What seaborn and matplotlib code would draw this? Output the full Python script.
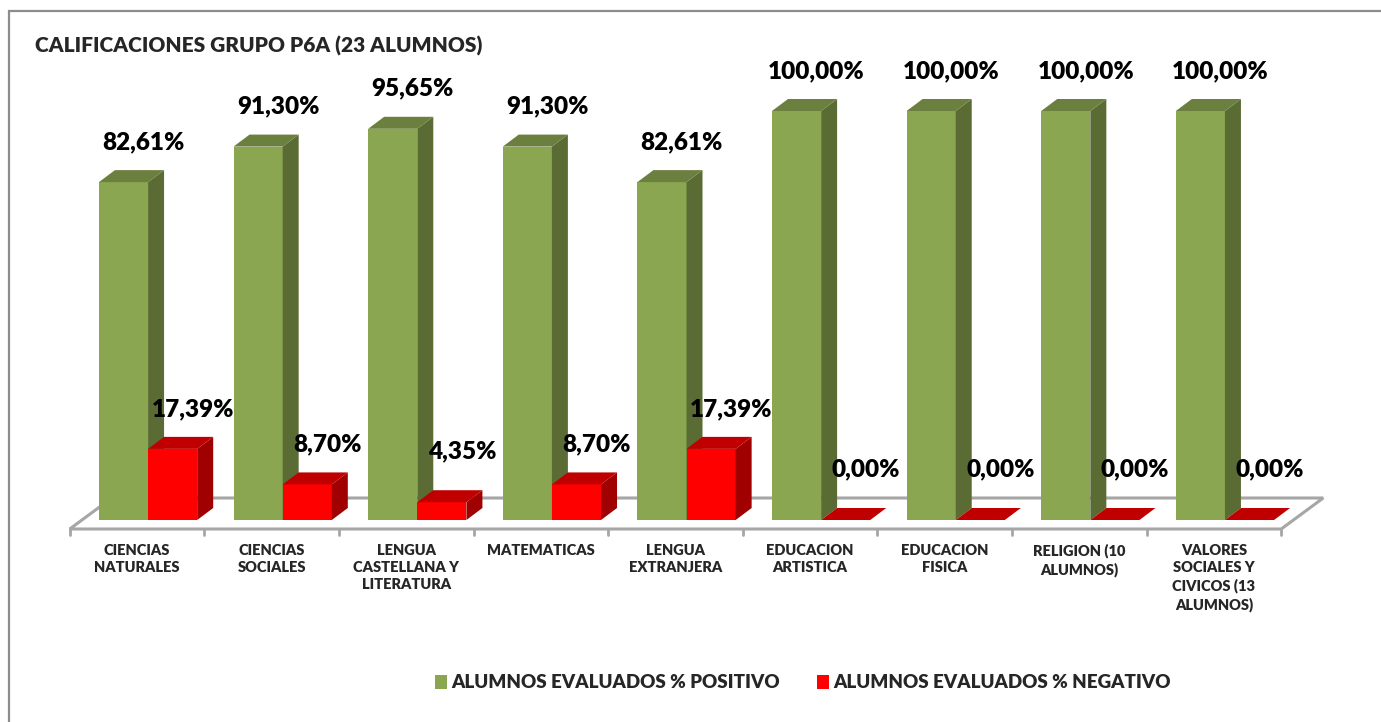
import numpy as np
import pandas as pd
import matplotlib
matplotlib.use("Agg")
import matplotlib.pyplot as plt
import matplotlib.transforms as mtransforms
from matplotlib.patches import Polygon, Rectangle, Patch
import seaborn as sns

# ====== DATA ======
CATEGORIES = [
    "CIENCIAS\nNATURALES",
    "CIENCIAS\nSOCIALES",
    "LENGUA\nCASTELLANA Y\nLITERATURA",
    "MATEMATICAS",
    "LENGUA\nEXTRANJERA",
    "EDUCACION\nARTISTICA",
    "EDUCACION\nFISICA",
    "RELIGION (10\nALUMNOS)",
    "VALORES\nSOCIALES Y\nCIVICOS (13\nALUMNOS)",
]
POSITIVO = [82.61, 91.30, 95.65, 91.30, 82.61, 100.00, 100.00, 100.00, 100.00]
NEGATIVO = [17.39, 8.70, 4.35, 8.70, 17.39, 0.00, 0.00, 0.00, 0.00]
SERIES = ["ALUMNOS EVALUADOS % POSITIVO", "ALUMNOS EVALUADOS % NEGATIVO"]
TITLE = "CALIFICACIONES GRUPO P6A (23 ALUMNOS)"
# ==================

# front / side / top colours for each series
FACES = {
    SERIES[0]: ("#8AA650", "#5A6B33", "#6B803F"),
    SERIES[1]: ("#FF0000", "#A00000", "#C00000"),
}
DEPTH = (16, 12)          # bar depth in pixels (right, up)
FLOOR_FRONT = (-11, -9)   # floor front edge relative to bar plane
FLOOR_BACK = (31, 22)     # floor back edge relative to bar plane
WEIGHT = "heavy"

W, H, DPI = 1381, 722, 100

df = pd.DataFrame({
    "Materia": CATEGORIES * 2,
    "Serie": [SERIES[0]] * len(CATEGORIES) + [SERIES[1]] * len(CATEGORIES),
    "Valor": POSITIVO + NEGATIVO,
})

sns.set_style("white")
plt.rcParams["font.family"] = ["Lato", "DejaVu Sans"]
plt.rcParams["font.weight"] = WEIGHT

fig = plt.figure(figsize=(W / DPI, H / DPI), dpi=DPI)
# axes placed so that 0% sits on the bar plane and 100% at the tallest top
left_px, right_px = 80.75, 1292.25
bottom_px, top_px = 520, 111
ax = fig.add_axes([left_px / W, 1 - bottom_px / H,
                   (right_px - left_px) / W, (bottom_px - top_px) / H])

sns.barplot(data=df, x="Materia", y="Valor", hue="Serie",
            palette=[FACES[s][0] for s in SERIES], saturation=1,
            width=0.73, legend=False, ax=ax, zorder=2)
ax.set_xlim(-0.5, len(CATEGORIES) - 0.5)
ax.set_ylim(0, 100)
for sp in ax.spines.values():
    sp.set_visible(False)
ax.set_yticks([])
ax.set_xlabel("")
ax.set_ylabel("")


def shifted(x, y, dx, dy):
    """data point moved by a pixel offset, returned in data units"""
    px = ax.transData.transform((x, y)) + np.array([dx, dy])
    return ax.transData.inverted().transform(px)


# ---- floor ----
x0, x1 = -0.5, len(CATEGORIES) - 0.5
floor = [shifted(x0, 0, *FLOOR_FRONT), shifted(x1, 0, *FLOOR_FRONT),
         shifted(x1, 0, *FLOOR_BACK), shifted(x0, 0, *FLOOR_BACK)]
ax.add_patch(Polygon(floor, closed=True, facecolor="white",
                     edgecolor="#A6A6A6", lw=2.2, zorder=1, clip_on=False))
for k in range(len(CATEGORIES) + 1):
    a = shifted(x0 + k, 0, *FLOOR_FRONT)
    b = shifted(x0 + k, 0, FLOOR_FRONT[0], FLOOR_FRONT[1] - 6)
    ax.plot([a[0], b[0]], [a[1], b[1]], color="#A6A6A6", lw=2,
            zorder=1, clip_on=False)

# ---- 3D faces + value labels ----
for j, (serie, cont) in enumerate(zip(SERIES, ax.containers)):
    front, side, top = FACES[serie]
    for bar in cont:
        bx, bw, bh = bar.get_x(), bar.get_width(), bar.get_height()
        bar.set_zorder(2 + j)
        bar.set_edgecolor("none")
        top_face = [(bx, bh), (bx + bw, bh),
                    shifted(bx + bw, bh, *DEPTH), shifted(bx, bh, *DEPTH)]
        side_face = [(bx + bw, 0), (bx + bw, bh),
                     shifted(bx + bw, bh, *DEPTH), shifted(bx + bw, 0, *DEPTH)]
        ax.add_patch(Polygon(side_face, closed=True, facecolor=side,
                             edgecolor="none", zorder=2 + j, clip_on=False))
        ax.add_patch(Polygon(top_face, closed=True, facecolor=top,
                             edgecolor="none", zorder=2 + j, clip_on=False))
        # short bars get their label lifted a bit more (as Excel does)
        lift = 40 if bh >= 5 else 51
        tr = mtransforms.offset_copy(ax.transData, fig=fig, x=20, y=lift, units="dots")
        ax.text(bx + bw / 2, bh, f"{bh:.2f}%".replace(".", ","),
                transform=tr, ha="center", va="center", fontsize=17.5,
                fontweight=WEIGHT, color="black", zorder=6, clip_on=False)

# ---- category labels ----
ax.set_xticks(range(len(CATEGORIES)))
ax.set_xticklabels(CATEGORIES, fontsize=10.5, fontweight=WEIGHT,
                   linespacing=1.38, ha="center", multialignment="center")
ax.tick_params(axis="x", length=0, pad=17)
shift = mtransforms.ScaledTranslation(-11 / DPI, 0, fig.dpi_scale_trans)
for lab in ax.get_xticklabels():
    lab.set_transform(lab.get_transform() + shift)

# ---- title, legend, frame ----
fig.text(35 / W, 1 - 46 / H, TITLE, ha="left", va="center",
         fontsize=15, fontweight=WEIGHT)
handles = [Patch(facecolor=FACES[s][0], edgecolor="none", label=s) for s in SERIES]
fig.legend(handles=handles, loc="center", bbox_to_anchor=(803 / W, 1 - 683 / H),
           ncol=2, frameon=False, handlelength=0.6, handleheight=0.75,
           handletextpad=0.25, columnspacing=2.0,
           prop={"weight": WEIGHT, "size": 13.5})
fig.add_artist(Rectangle((9 / W, -0.1), 1.2, 1 - 11 / H + 0.1,
                         transform=fig.transFigure, fill=False,
                         edgecolor="#8C8C8C", lw=1.6))

fig.savefig("out.png", dpi=DPI)
